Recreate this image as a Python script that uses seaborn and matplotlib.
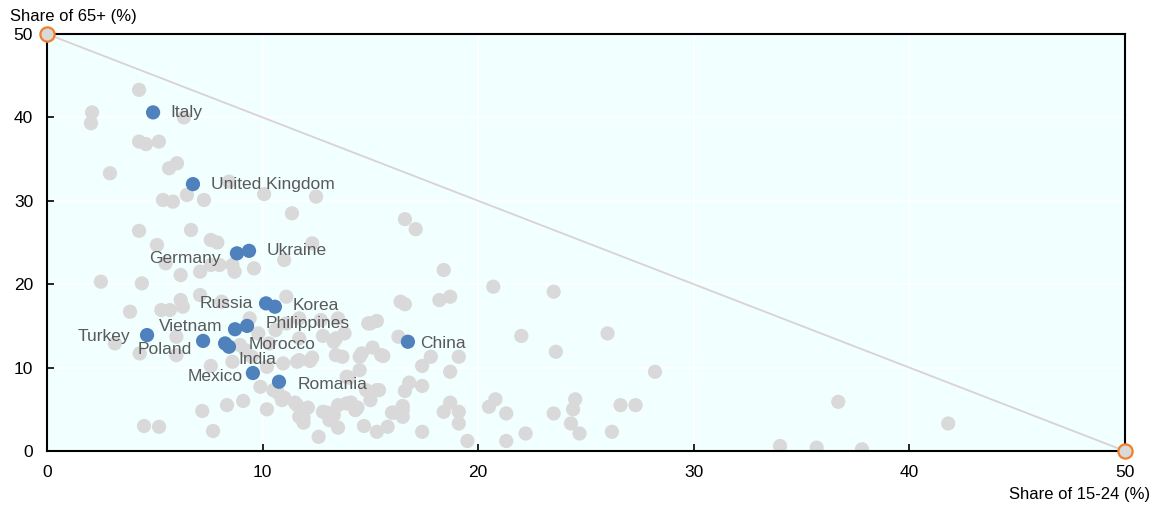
import matplotlib
matplotlib.use("Agg")
import matplotlib.pyplot as plt
import seaborn as sns
import pandas as pd

# ---------------- data ----------------
other_x = [4.27, 2.09, 2.04, 6.35, 4.27, 4.59, 5.19, 2.92, 5.66, 6.03, 5.38, 5.84, 6.49, 7.28, 8.44, 10.07,
           12.48, 11.36, 4.27, 6.68, 5.1, 7.6, 7.9, 12.3, 16.6, 17.1,
           11.0, 18.4, 20.7, 11.1, 16.6, 18.2, 18.7, 14.9, 15.3,
           23.5, 22.0, 26.0, 23.6, 28.2, 20.8, 20.5, 21.3, 21.3, 22.2, 23.5, 24.5, 24.4, 24.3, 24.7, 26.6, 27.3, 26.2,
           36.7, 41.8, 34.0, 35.7, 37.8,
           16.3, 15.6, 17.8, 17.4, 19.1, 18.7, 15.4, 16.8, 16.6, 17.4, 16.5, 16.0, 16.5, 15.8, 17.4, 18.4, 18.7,
           19.1, 19.1, 19.5,
           13.4, 14.5, 15.1, 15.5, 11.6, 12.2, 13.4, 13.7, 14.5, 13.9, 15.3, 14.8, 10.9,
           11.6, 12.1, 12.8, 13.3, 13.5, 14.1, 14.4, 15.0, 11.9, 13.1, 13.5, 12.6, 14.7, 15.3, 16.1, 16.5,
           4.5, 5.2, 7.7, 7.2, 8.35, 9.1, 10.2, 7.6, 9.9, 10.5, 11.0, 11.5, 11.7, 13.0, 11.9,
           4.3, 6.0, 3.15, 6.0,
           5.5, 6.2, 7.1, 7.6, 8.0, 8.7, 8.6, 9.6, 2.5, 4.4, 3.85, 5.3, 6.2, 7.1, 5.7, 6.3,
           8.95, 9.2, 10.2, 10.95, 10.7, 14.0, 13.9, 14.3, 15.0, 14.6, 11.7, 12.3, 13.3, 16.4,
           8.1, 9.4, 11.1, 11.7, 12.7, 13.5, 9.8, 10.6, 11.7, 12.8, 13.8, 8.6, 9.5, 10.3]
other_y = [43.3, 40.6, 39.3, 40.0, 37.1, 36.8, 37.1, 33.3, 33.9, 34.5, 30.1, 29.9, 30.7, 30.1, 32.3, 30.8,
           30.5, 28.5, 26.4, 26.5, 24.7, 25.3, 25.0, 24.9, 27.8, 26.6,
           22.9, 21.7, 19.7, 18.5, 17.6, 18.1, 18.5, 15.3, 15.6,
           19.1, 13.8, 14.1, 11.9, 9.5, 6.2, 5.3, 4.5, 1.2, 2.1, 4.5, 6.2, 5.0, 3.3, 2.1, 5.5, 5.5, 2.3,
           5.9, 3.3, 0.6, 0.4, 0.2,
           13.7, 11.4, 11.3, 10.2, 11.3, 9.5, 7.3, 8.2, 7.2, 7.8, 5.4, 4.6, 4.1, 2.9, 2.3, 4.7, 5.8,
           4.7, 3.3, 1.2,
           13.5, 11.3, 12.4, 11.5, 10.7, 10.8, 11.5, 11.3, 9.7, 8.9, 7.3, 7.3, 6.1,
           5.5, 5.2, 4.7, 4.3, 5.5, 5.8, 5.2, 6.1, 4.0, 3.7, 2.8, 1.7, 3.0, 2.3, 4.6, 4.9,
           3.0, 2.9, 2.4, 4.8, 5.5, 6.0, 5.0, 10.2, 7.7, 7.3, 6.4, 5.8, 4.1, 4.6, 3.4,
           11.7, 11.5, 12.9, 13.7,
           22.5, 21.1, 21.5, 22.3, 22.3, 21.5, 22.3, 21.9, 20.3, 20.1, 16.7, 16.9, 18.1, 18.7, 16.9, 17.3,
           12.7, 12.1, 10.1, 10.5, 7.0, 8.8, 5.7, 4.9, 15.3, 11.7, 10.9, 11.2, 13.1, 17.9,
           17.9, 15.9, 15.3, 15.9, 15.7, 15.9, 14.1, 14.5, 13.5, 13.8, 14.1, 10.7, 11.3, 12.9]

countries = ["Italy", "United Kingdom", "Germany", "Ukraine", "Russia", "Korea", "Philippines",
             "Vietnam", "Turkey", "Poland", "Morocco", "India", "Mexico", "Romania", "China"]
share_15_24 = [4.92, 6.77, 8.81, 9.37, 10.16, 10.57, 9.28, 8.72, 4.64, 7.24, 8.26, 8.44, 9.55, 10.76, 16.74]
share_65 = [40.6, 32.0, 23.7, 24.0, 17.7, 17.3, 15.0, 14.6, 13.9, 13.2, 12.9, 12.5, 9.35, 8.3, 13.1]

limit_x = [0, 50]
limit_y = [50, 0]
x_ticks = [0, 10, 20, 30, 40, 50]
y_ticks = [0, 10, 20, 30, 40, 50]

# label offsets in pixels (layout only)
label_offsets = {
    "Italy": (17, 0, "left"), "United Kingdom": (18, 0, "left"), "Germany": (-16, -5, "right"),
    "Ukraine": (18, 0, "left"), "Russia": (-13, 0, "right"), "Korea": (18, 1, "left"),
    "Philippines": (19, 2, "left"), "Vietnam": (-13, 3, "right"), "Turkey": (-17, -1, "right"),
    "Poland": (-11, -9, "right"), "Morocco": (24, -1, "left"), "India": (9, -13, "left"),
    "Mexico": (-10, -3, "right"), "Romania": (19, -3, "left"), "China": (12, -2, "left"),
}

# ---------------- plot ----------------
sns.set_theme(style="white")
plt.rcParams["font.family"] = ["Liberation Sans", "DejaVu Sans"]

fig = plt.figure(figsize=(11.58, 5.11), dpi=100)
ax = fig.add_axes([47 / 1158, 1 - 451 / 511, (1125 - 47) / 1158, (451 - 34) / 511])
ax.set_facecolor("#F2FFFF")

df_other = pd.DataFrame({"x": other_x, "y": other_y})
df_hl = pd.DataFrame({"country": countries, "x": share_15_24, "y": share_65})

# diagonal limit line
ax.plot(limit_x, limit_y, color="#D9D2D2", lw=1.3, zorder=1)

sns.scatterplot(data=df_other, x="x", y="y", ax=ax, color="#D9D9D9", s=105,
                edgecolor="none", linewidth=0, zorder=2, legend=False)
sns.scatterplot(data=df_hl, x="x", y="y", ax=ax, color="#4F81BD", s=105,
                edgecolor="none", linewidth=0, zorder=4, legend=False)

# end markers
ax.scatter(limit_x, limit_y, s=105, facecolor="#D9D9D9", edgecolor="#F07F2E", linewidth=1.6,
           zorder=6, clip_on=False)

for c, xv, yv in zip(countries, share_15_24, share_65):
    dx, dy, ha = label_offsets[c]
    ax.annotate(c, (xv, yv), xytext=(dx, dy), textcoords="offset pixels", ha=ha, va="center",
                fontsize=12.5, color="#595959", zorder=5)

ax.set_xlim(0, 50)
ax.set_ylim(0, 50)
ax.set_xticks(x_ticks)
ax.set_yticks(y_ticks)
ax.set_xticklabels([str(t) for t in x_ticks])
ax.set_yticklabels([str(t) for t in y_ticks])
ax.grid(True, color="white", lw=1.2)
ax.set_axisbelow(True)
for s in ax.spines.values():
    s.set_visible(True)
    s.set_color("black")
    s.set_linewidth(1.5)
ax.tick_params(axis="both", direction="in", length=5, width=1.2, color="black",
               labelsize=12.5, labelcolor="black")
ax.tick_params(axis="y", pad=10, left=True, right=False)
ax.tick_params(axis="x", pad=10, top=False, bottom=True)
ax.set_xlabel("")
ax.set_ylabel("")

fig.text(10 / 1158, 1 - 16 / 511, "Share of 65+ (%)", fontsize=12, color="black", ha="left", va="center")
fig.text(1150 / 1158, 1 - 494 / 511, "Share of 15-24 (%)", fontsize=12, color="black", ha="right", va="center")

fig.savefig("out.png", dpi=100)
